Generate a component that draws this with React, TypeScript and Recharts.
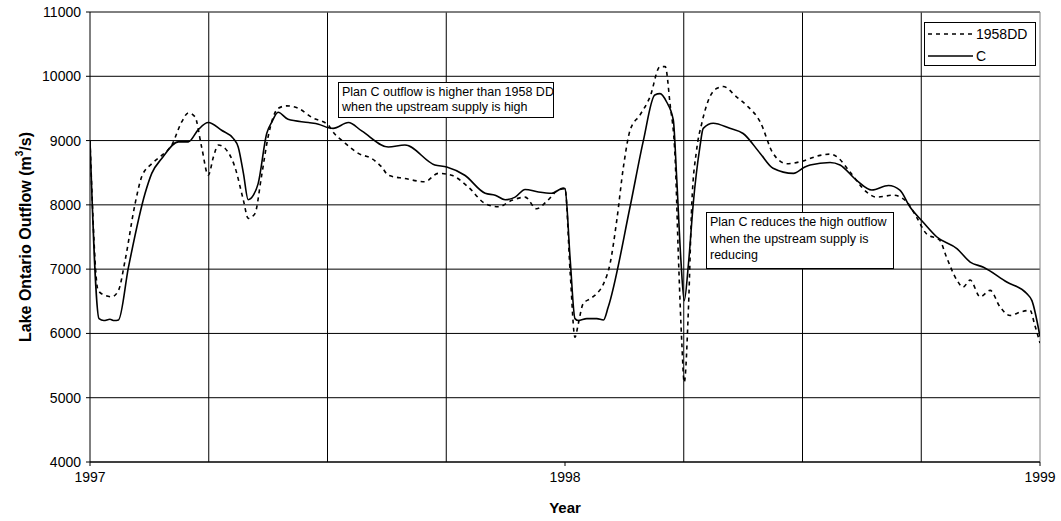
import React from 'react';
import { LineChart, Line, XAxis, YAxis, CartesianGrid, ReferenceLine, Label } from 'recharts';

const yearTicks = [1997, 1998, 1999];
const quarterLines = [1997.25, 1997.5, 1997.75, 1998.25, 1998.5, 1998.75];
const yTicks = [4000, 5000, 6000, 7000, 8000, 9000, 10000, 11000];

const seriesNames = ['1958DD', 'C'];

const cYears = [
  1997.0, 1997.019, 1997.029, 1997.042, 1997.051, 1997.06, 1997.081, 1997.116, 1997.13, 1997.151,
  1997.186, 1997.207, 1997.228, 1997.249, 1997.277, 1997.302, 1997.312, 1997.323, 1997.333, 1997.344,
  1997.354, 1997.372, 1997.383, 1997.396, 1997.417, 1997.46, 1997.481, 1997.502, 1997.512, 1997.544,
  1997.572, 1997.628, 1997.663, 1997.726, 1997.751, 1997.789, 1997.832, 1997.853, 1997.874, 1997.895,
  1997.916, 1997.944, 1997.972, 1997.996, 1998.0, 1998.011, 1998.021, 1998.028, 1998.046, 1998.067,
  1998.081, 1998.091, 1998.137, 1998.165, 1998.189, 1998.2, 1998.214, 1998.228, 1998.235, 1998.244,
  1998.251, 1998.26, 1998.27, 1998.284, 1998.291, 1998.312, 1998.347, 1998.375, 1998.411, 1998.438,
  1998.481, 1998.505, 1998.516, 1998.558, 1998.579, 1998.614, 1998.646, 1998.681, 1998.705, 1998.726,
  1998.754, 1998.783, 1998.825, 1998.853, 1998.881, 1998.93, 1998.972, 1998.983, 1999.0,
];
const cValues = [
  9000, 6230, 6200, 6220, 6200, 6210, 7030, 8180, 8490, 8720,
  8980, 8980, 9170, 9280, 9160, 9030, 8900, 8490, 8080, 8150,
  8330, 9110, 9290, 9440, 9330, 9280, 9255, 9200, 9190, 9280,
  9150, 8900, 8930, 8620, 8590, 8460, 8180, 8150, 8080, 8120,
  8240, 8200, 8180, 8260, 8250, 7140, 6230, 6200, 6230, 6230,
  6210, 6410, 7970, 9000, 9710, 9730, 9600, 9320, 8440, 7140,
  6510, 7090, 8020, 8900, 9190, 9270, 9190, 9110, 8800, 8570,
  8490, 8590, 8620, 8660, 8620, 8380, 8230, 8300, 8230, 7970,
  7730, 7500, 7320, 7110, 7030, 6800, 6620, 6510, 5950,
];

const ddYears = [
  1997.0, 1997.017, 1997.032, 1997.046, 1997.06, 1997.074, 1997.095, 1997.109, 1997.13, 1997.151,
  1997.172, 1997.193, 1997.207, 1997.221, 1997.235, 1997.249, 1997.26, 1997.27, 1997.284, 1997.305,
  1997.323, 1997.333, 1997.347, 1997.361, 1997.375, 1997.396, 1997.414, 1997.439, 1997.467, 1997.502,
  1997.509, 1997.537, 1997.565, 1997.593, 1997.614, 1997.628, 1997.663, 1997.705, 1997.733, 1997.761,
  1997.796, 1997.832, 1997.86, 1997.888, 1997.916, 1997.94, 1997.961, 1997.986, 1998.0, 1998.011,
  1998.021, 1998.028, 1998.038, 1998.053, 1998.067, 1998.081, 1998.095, 1998.109, 1998.123, 1998.137,
  1998.158, 1998.179, 1998.2, 1998.211, 1998.221, 1998.232, 1998.239, 1998.246, 1998.251, 1998.26,
  1998.267, 1998.277, 1998.288, 1998.302, 1998.319, 1998.333, 1998.361, 1998.382, 1998.411, 1998.438,
  1998.467, 1998.495, 1998.537, 1998.558, 1998.572, 1998.6, 1998.635, 1998.656, 1998.691, 1998.719,
  1998.74, 1998.761, 1998.789, 1998.803, 1998.825, 1998.838, 1998.853, 1998.874, 1998.895, 1998.916,
  1998.937, 1998.958, 1998.979, 1998.989, 1999.0,
];
const ddValues = [
  9000, 6670, 6590, 6570, 6670, 7140, 8020, 8440, 8640, 8770,
  8930, 9290, 9430, 9370, 8900, 8460, 8750, 8930, 8880, 8590,
  8070, 7790, 7860, 8440, 9060, 9500, 9540, 9500, 9360, 9240,
  9160, 8960, 8800, 8720, 8590, 8460, 8410, 8360, 8490, 8460,
  8280, 8020, 7970, 8070, 8120, 7940, 8050, 8230, 8250, 6930,
  5940, 6150, 6460, 6540, 6620, 6770, 7090, 7760, 8590, 9160,
  9400, 9680, 10150, 10150, 9580, 8700, 7140, 5840, 5240, 6410,
  8020, 8850, 9270, 9630, 9810, 9840, 9680, 9550, 9290, 8800,
  8640, 8670, 8770, 8790, 8750, 8510, 8200, 8120, 8150, 8050,
  7810, 7550, 7450, 7190, 6830, 6720, 6830, 6570, 6670, 6410,
  6280, 6330, 6360, 6130, 5850,
];

const cData = cYears.map((t, i) => ({ t, v: cValues[i] }));
const ddData = ddYears.map((t, i) => ({ t, v: ddValues[i] }));

const FONT = '"Liberation Sans", Arial, sans-serif';

const YLabel = (props: any) => {
  const vb = props.viewBox || { x: 0, y: 0, width: 90, height: 450 };
  const cx = vb.x + 25;
  const cy = vb.y + vb.height / 2;
  return (
    <text
      transform={`translate(${cx},${cy}) rotate(-90)`}
      textAnchor="middle"
      dominantBaseline="central"
      fontFamily={FONT}
      fontWeight="bold"
      fontSize={16}
      fill="#000"
    >
      Lake Ontario Outflow (m<tspan dy={-6} fontSize={10}>3</tspan>
      <tspan dy={6}>/s)</tspan>
    </text>
  );
};

const XLabel = (props: any) => {
  const vb = props.viewBox || { x: 90, y: 462, width: 950, height: 30 };
  return (
    <text
      x={vb.x + vb.width / 2}
      y={vb.y + 45}
      textAnchor="middle"
      dominantBaseline="central"
      fontFamily={FONT}
      fontWeight="bold"
      fontSize={15}
      fill="#000"
    >
      Year
    </text>
  );
};

const boxStyle: React.CSSProperties = {
  position: 'absolute',
  border: '1px solid #000',
  background: '#fff',
  fontFamily: FONT,
  fontSize: 12.5,
  lineHeight: '16px',
  color: '#000',
  whiteSpace: 'nowrap',
  boxSizing: 'border-box',
};

export default function App() {
  return (
    <div style={{ position: 'absolute', left: 0, top: 0, width: 1061, height: 521, background: '#fff' }}>
      <LineChart
        width={1061}
        height={521}
        margin={{ top: 12, right: 21, bottom: 29, left: 0 }}
        style={{ fontFamily: FONT }}
      >
        <CartesianGrid vertical={false} stroke="#000" strokeWidth={1} />
        <XAxis
          dataKey="t"
          type="number"
          domain={[1997, 1999]}
          ticks={yearTicks}
          allowDataOverflow
          stroke="#000"
          tickSize={4}
          tickMargin={6}
          height={30}
          tick={{ fill: '#000', fontSize: 14, fontFamily: FONT }}
          label={<XLabel />}
        />
        <YAxis
          type="number"
          domain={[4000, 11000]}
          ticks={yTicks}
          allowDataOverflow
          width={90}
          stroke="#000"
          tickSize={4}
          tickMargin={5}
          tick={{ fill: '#000', fontSize: 14, fontFamily: FONT }}
          label={<YLabel />}
        />
        {quarterLines.map((q) => (
          <ReferenceLine key={q} x={q} stroke="#000" strokeWidth={1} ifOverflow="hidden" />
        ))}
        <ReferenceLine y={11000} stroke="#808080" strokeWidth={1} />
        <ReferenceLine x={1999} stroke="#808080" strokeWidth={1} />
        <Line
          data={ddData}
          dataKey="v"
          name={seriesNames[0]}
          type="monotone"
          stroke="#000"
          strokeWidth={1.6}
          strokeDasharray="4 4"
          dot={false}
          activeDot={false}
          isAnimationActive={false}
        />
        <Line
          data={cData}
          dataKey="v"
          name={seriesNames[1]}
          type="monotone"
          stroke="#000"
          strokeWidth={1.6}
          dot={false}
          activeDot={false}
          isAnimationActive={false}
        />
      </LineChart>

      {/* Legend */}
      <div style={{ ...boxStyle, left: 924, top: 22, width: 112, height: 44, fontSize: 14, lineHeight: '22px', paddingTop: 0 }}>
        <div style={{ display: 'flex', alignItems: 'center', height: 22 }}>
          <svg width={48} height={6} style={{ marginLeft: 3 }}>
            <line x1={0} y1={3} x2={44} y2={3} stroke="#000" strokeWidth={1.6} strokeDasharray="4 4" />
          </svg>
          <span>{seriesNames[0]}</span>
        </div>
        <div style={{ display: 'flex', alignItems: 'center', height: 22 }}>
          <svg width={48} height={6} style={{ marginLeft: 3 }}>
            <line x1={0} y1={3} x2={45} y2={3} stroke="#000" strokeWidth={1.6} />
          </svg>
          <span>{seriesNames[1]}</span>
        </div>
      </div>

      {/* Annotations */}
      <div style={{ ...boxStyle, left: 338, top: 82, width: 216, height: 36, padding: '2px 0 0 3px', lineHeight: '15px' }}>
        <div>Plan C outflow is higher than 1958 DD</div>
        <div>when the upstream supply is high</div>
      </div>
      <div style={{ ...boxStyle, left: 706, top: 212, width: 188, height: 57, padding: '1px 0 0 3px', lineHeight: '16.5px' }}>
        <div>Plan C reduces the high outflow</div>
        <div>when the upstream supply is</div>
        <div>reducing</div>
      </div>
    </div>
  );
}
